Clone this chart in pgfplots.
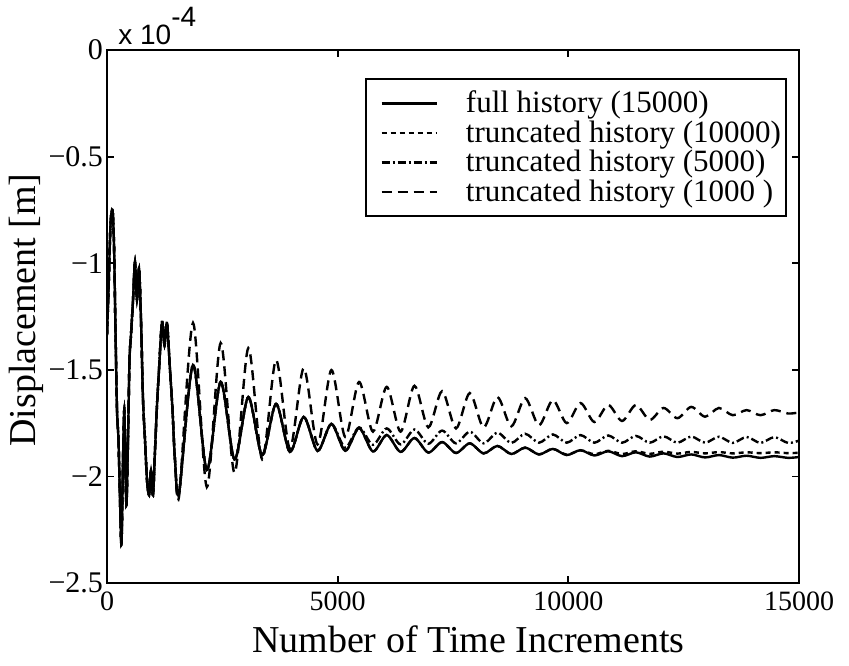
\documentclass[border=0pt]{standalone}
\usepackage{fontspec}
\setmainfont{Liberation Serif}
\newfontfamily\helv{Liberation Sans}
\usepackage{pgfplots}
\usepackage{pgfplotstable}
\pgfplotsset{compat=1.18}

% displacement (units of 1e-4 m) against time increment for each history length
\pgfplotstableread{
inc    full    t10000  t5000   t1000
0      -1.337  -1.337  -1.337  -1.337
33     -1.126  -1.126  -1.126  -1.126
76     -0.820  -0.820  -0.820  -0.820
119    -0.750  -0.750  -0.750  -0.750
152    -0.915  -0.915  -0.915  -0.915
184    -1.313  -1.313  -1.313  -1.313
217    -1.689  -1.689  -1.689  -1.689
249    -1.829  -1.829  -1.829  -1.829
282    -2.110  -2.110  -2.110  -2.110
314    -2.320  -2.320  -2.320  -2.320
347    -1.923  -1.923  -1.923  -1.923
375    -1.689  -1.689  -1.689  -1.689
401    -1.970  -1.970  -1.970  -1.970
423    -2.134  -2.134  -2.134  -2.134
455    -1.829  -1.829  -1.829  -1.829
488    -1.454  -1.454  -1.454  -1.454
520    -1.337  -1.337  -1.337  -1.337
564    -1.173  -1.173  -1.173  -1.173
607    -0.994  -0.994  -0.994  -0.994
650    -1.173  -1.173  -1.173  -1.173
694    -1.022  -1.022  -1.022  -1.022
737    -1.266  -1.266  -1.266  -1.266
781    -1.642  -1.642  -1.642  -1.642
824    -1.829  -1.829  -1.829  -1.829
867    -2.017  -2.017  -2.017  -2.017
911    -2.087  -2.087  -2.087  -2.087
954    -1.970  -1.970  -1.970  -1.970
997    -2.087  -2.087  -2.087  -2.087
1041   -1.876  -1.876  -1.876  -1.876
1084   -1.665  -1.665  -1.665  -1.665
1127   -1.501  -1.501  -1.501  -1.501
1192   -1.276  -1.276  -1.276  -1.276
1247   -1.384  -1.384  -1.384  -1.384
1300   -1.280  -1.280  -1.280  -1.280
1366   -1.501  -1.501  -1.501  -1.501
1420   -1.689  -1.689  -1.689  -1.689
1474   -1.923  -1.923  -1.923  -1.923
1564   -2.075  -2.075  -2.075  -2.090
1864   -1.477  -1.477  -1.477  -1.280
2164   -1.970  -1.970  -1.970  -2.050
2464   -1.557  -1.557  -1.557  -1.374
2764   -1.920  -1.920  -1.920  -1.984
3064   -1.628  -1.628  -1.628  -1.398
3364   -1.900  -1.900  -1.900  -1.920
3664   -1.660  -1.660  -1.660  -1.454
3964   -1.885  -1.885  -1.885  -1.870
4264   -1.721  -1.721  -1.721  -1.492
4564   -1.880  -1.880  -1.880  -1.850
4864   -1.754  -1.754  -1.754  -1.501
5164   -1.880  -1.880  -1.865  -1.815
5464   -1.773  -1.773  -1.770  -1.557
5764   -1.883  -1.883  -1.852  -1.790
6064   -1.806  -1.806  -1.775  -1.580
6364   -1.885  -1.885  -1.850  -1.790
6664   -1.820  -1.820  -1.780  -1.575
6964   -1.888  -1.888  -1.847  -1.770
7264   -1.839  -1.839  -1.785  -1.600
7564   -1.890  -1.890  -1.845  -1.775
7864   -1.845  -1.845  -1.790  -1.609
8164   -1.892  -1.892  -1.845  -1.770
8464   -1.857  -1.857  -1.795  -1.628
8764   -1.895  -1.895  -1.843  -1.765
9064   -1.865  -1.865  -1.800  -1.633
9364   -1.897  -1.897  -1.842  -1.760
9664   -1.871  -1.871  -1.803  -1.642
9964   -1.900  -1.898  -1.842  -1.750
10264  -1.877  -1.878  -1.806  -1.656
10564  -1.902  -1.896  -1.842  -1.745
10864  -1.882  -1.880  -1.808  -1.665
11164  -1.905  -1.895  -1.842  -1.740
11464  -1.887  -1.882  -1.810  -1.665
11764  -1.907  -1.894  -1.842  -1.735
12064  -1.892  -1.884  -1.812  -1.679
12364  -1.909  -1.893  -1.842  -1.727
12664  -1.897  -1.885  -1.813  -1.674
12964  -1.911  -1.892  -1.842  -1.720
13264  -1.900  -1.886  -1.814  -1.679
13564  -1.912  -1.892  -1.843  -1.713
13864  -1.903  -1.887  -1.815  -1.689
14164  -1.913  -1.891  -1.843  -1.713
14464  -1.905  -1.887  -1.816  -1.689
14764  -1.913  -1.891  -1.843  -1.705
15000  -1.909  -1.889  -1.832  -1.700
}\histdata

\begin{document}
\begin{tikzpicture}
\useasboundingbox (0pt,0pt) rectangle (424.5pt,332.5pt);
\begin{axis}[
  at={(53.5pt,41pt)}, anchor=south west,
  scale only axis, width=346pt, height=266.5pt,
  xmin=0, xmax=15000, ymin=-2.5, ymax=0,
  scaled x ticks=false, scaled y ticks=false,
  xtick={0,5000,10000,15000}, xticklabels={0,5000,10000,15000},
  ytick={-2.5,-2,-1.5,-1,-0.5,0},
  yticklabels={−2.5,−2,−1.5,−1,−0.5,0},
  tick align=inside, major tick length=3.5pt,
  axis line style={line width=1.3pt},
  tick style={line width=0.9pt, black},
  ticklabel style={font=\fontsize{14}{14}\selectfont},
  yticklabel style={font=\fontsize{15}{15}\selectfont, xshift=1.5pt},
  xticklabel style={yshift=-1pt},
  xlabel={Number of Time Increments},
  ylabel={Displacement [m]},
  label style={font=\fontsize{19}{19}\selectfont},
  xlabel style={at={(axis description cs:0.522,-0.105)}, anchor=center},
  ylabel style={at={(axis description cs:-0.116,0.512)}, anchor=center},
  legend style={at={(axis description cs:0.9827,0.9475)}, anchor=north east,
    draw=black, line width=1pt, font=\fontsize{15.5}{15.5}\selectfont,
    inner xsep=1.5pt, inner ysep=5pt, row sep=0.5pt, column sep=13pt,
    nodes={inner sep=1pt}},
  legend cell align=left,
  legend image code/.code={\path (0pt,0pt); \draw[#1] (6pt,0pt) -- (33.5pt,0pt);},
]
\addplot[black, line width=1.2pt, smooth] table[x=inc, y=full] {\histdata};
\addlegendentry{full history (15000)}
\addplot[black, line width=1.2pt, smooth, dash pattern=on 2.5pt off 2pt] table[x=inc, y=t10000] {\histdata};
\addlegendentry{truncated history (10000)}
\addplot[black, line width=1.2pt, smooth, dash pattern=on 4pt off 1.5pt on 1pt off 1.5pt] table[x=inc, y=t5000] {\histdata};
\addlegendentry{truncated history (5000)}
\addplot[black, line width=1.2pt, smooth, dash pattern=on 5pt off 3pt] table[x=inc, y=t1000] {\histdata};
\addlegendentry{truncated history (1000 )}
\end{axis}
\node[anchor=base west, font=\helv\fontsize{14}{14}\selectfont, inner sep=0pt]
  at (59pt,310pt) {x 10\raisebox{9pt}{-4}};
\end{tikzpicture}
\end{document}
